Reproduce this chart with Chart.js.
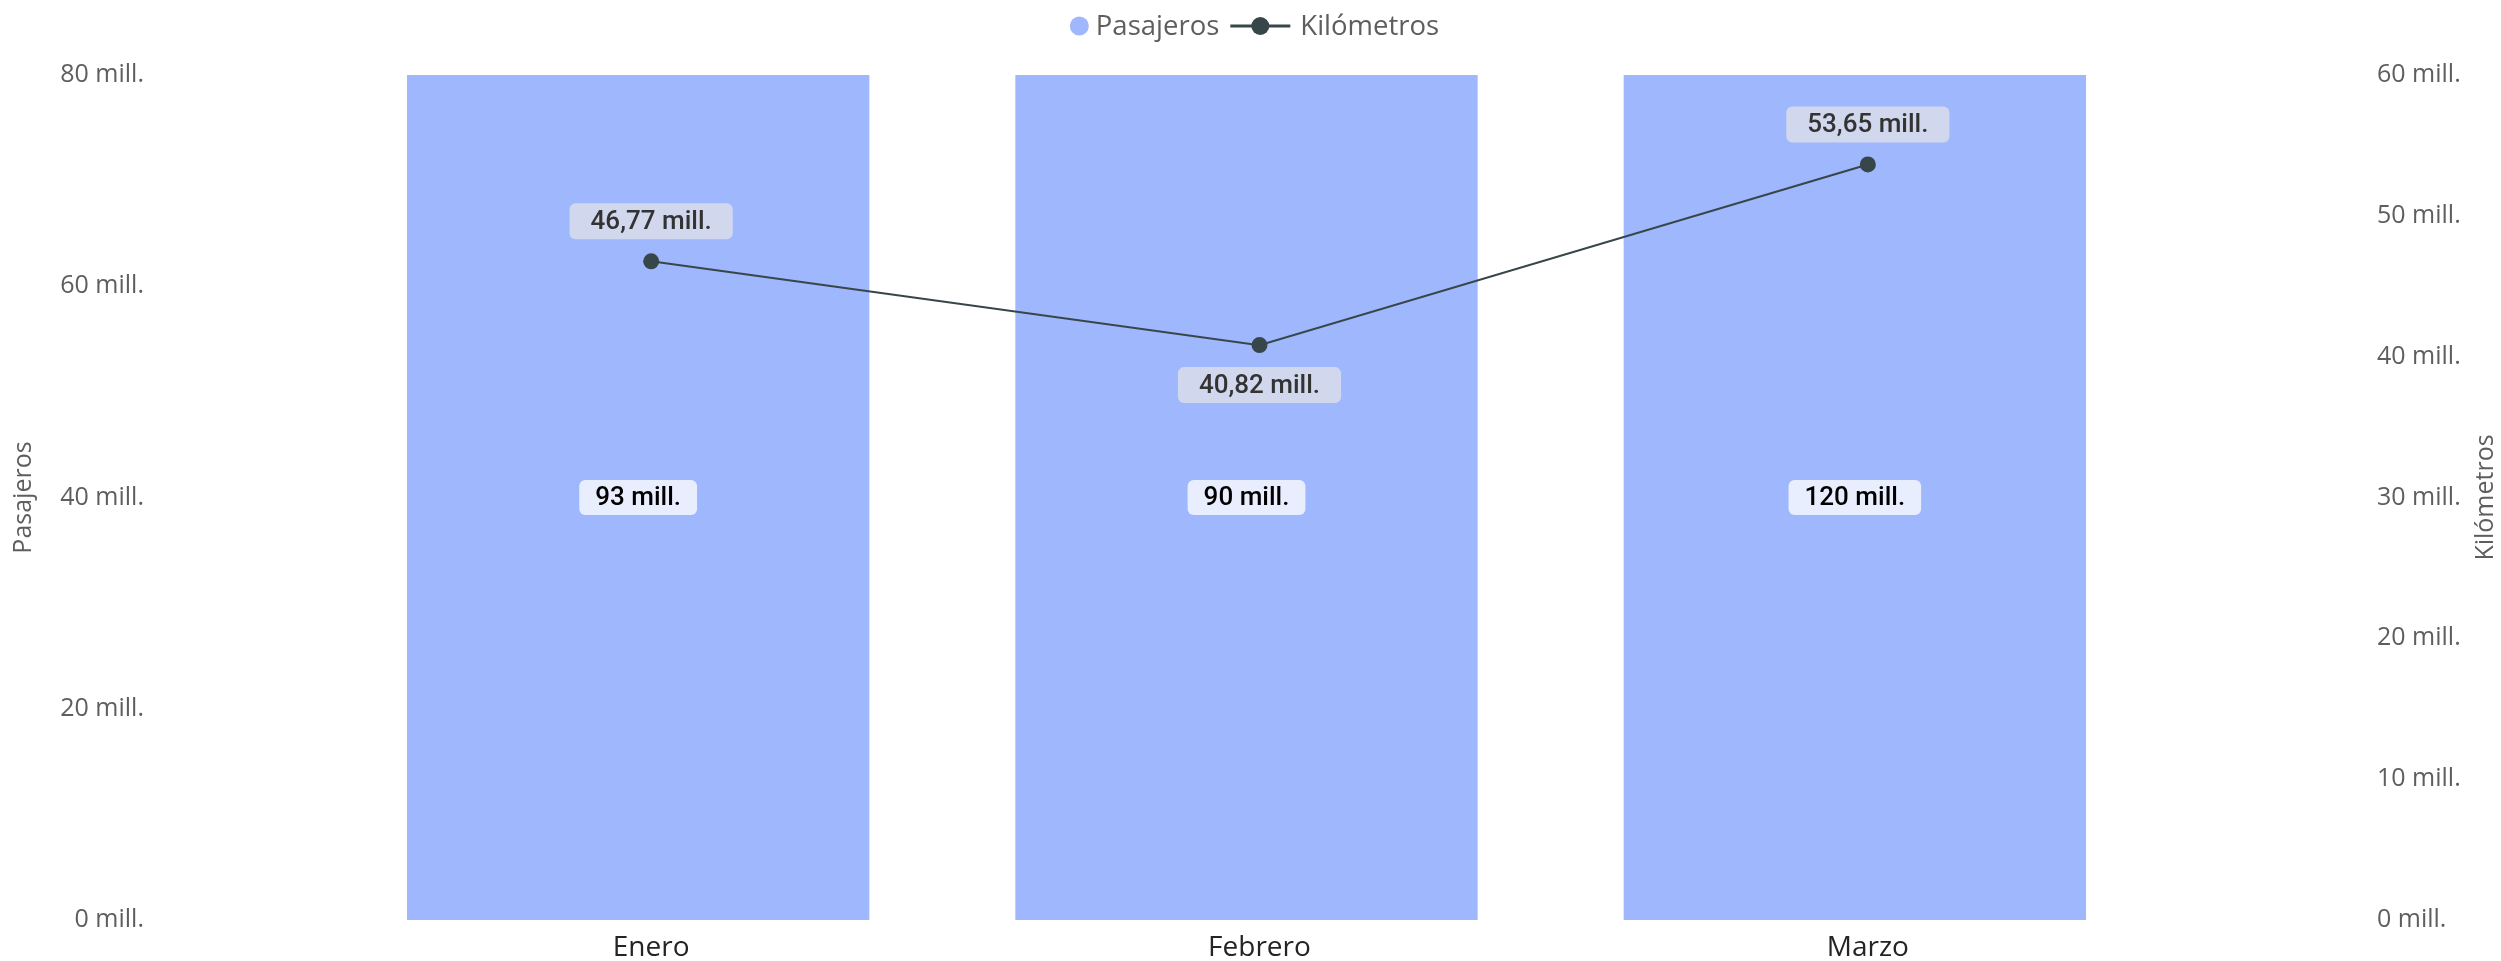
<!DOCTYPE html>
<html>
<head>
<meta charset="utf-8">
<style>
html,body{margin:0;padding:0;background:#ffffff;overflow:hidden}
#wrap{width:2501px;height:961px;position:relative}
</style>
<script src="https://cdn.jsdelivr.net/npm/chart.js@4.4.1/dist/chart.umd.min.js"></script>
</head>
<body>
<div id="wrap"><canvas id="c"></canvas></div>
<script>
// ---- data ----
const categories = ['Enero', 'Febrero', 'Marzo'];
const pasajeros = [93e6, 90e6, 120e6];
const kilometros = [46.77e6, 40.82e6, 53.65e6];
const pasajerosTicks = [0, 20e6, 40e6, 60e6, 80e6];
const kilometrosTicks = [0, 10e6, 20e6, 30e6, 40e6, 50e6, 60e6];
const seriesNames = ['Pasajeros', 'Kilómetros'];

// ---- styles ----
const BAR_COLOR = '#9FB7FD';
const LINE_COLOR = '#374649';
const TICK_COLOR = '#605E5C';
const CAT_COLOR = '#252423';
const UI_FONT = '"Open Sans", "Noto Sans", sans-serif';
const LABEL_FONT = 'Roboto, "DejaVu Sans", sans-serif';

function fmtMill(v, decimals) {
  return (v / 1e6).toFixed(decimals).replace('.', ',') + ' mill.';
}

function roundBox(ctx, x, y, w, h, r) {
  ctx.beginPath();
  if (ctx.roundRect) { ctx.roundRect(x, y, w, h, r); }
  else { ctx.rect(x, y, w, h); }
  ctx.fill();
}

function drawLabel(ctx, text, cx, cy, padX, h, bg, fg) {
  const tw = ctx.measureText(text).width;
  const w = tw + padX * 2;
  ctx.fillStyle = bg;
  roundBox(ctx, cx - w / 2, cy - h / 2, w, h, 6);
  ctx.fillStyle = fg;
  ctx.fillText(text, cx, cy + 1);
}

const valueLabels = {
  id: 'valueLabels',
  afterDatasetsDraw(chart) {
    const { ctx, chartArea } = chart;
    ctx.save();
    ctx.font = '500 26px ' + LABEL_FONT;
    ctx.textAlign = 'center';
    ctx.textBaseline = 'middle';
    const barMeta = chart.getDatasetMeta(0);
    barMeta.data.forEach((el, i) => {
      const top = Math.max(el.y, chartArea.top);
      const bottom = Math.min(el.base, chartArea.bottom);
      drawLabel(ctx, fmtMill(pasajeros[i], 0), el.x, (top + bottom) / 2, 16, 35, '#E9EEFE', '#000000');
    });
    const lineMeta = chart.getDatasetMeta(1);
    const n = kilometros.length;
    lineMeta.data.forEach((el, i) => {
      const v = kilometros[i];
      const below = i > 0 && i < n - 1 && v < kilometros[i - 1] && v < kilometros[i + 1];
      const cy = below ? el.y + 40 : el.y - 40;
      drawLabel(ctx, fmtMill(v, 2), el.x, cy, 21, 36, '#D1D7EC', '#333333');
    });
    ctx.restore();
  }
};

const customLegendAndTitle = {
  id: 'customLegendAndTitle',
  afterDraw(chart) {
    const { ctx, chartArea } = chart;
    ctx.save();
    // legend
    ctx.font = '27.5px ' + UI_FONT;
    ctx.textBaseline = 'middle';
    ctx.textAlign = 'left';
    const y = 26;
    const t1 = seriesNames[0], t2 = seriesNames[1];
    const w1 = ctx.measureText(t1).width, w2 = ctx.measureText(t2).width;
    const total = 19 + 7 + w1 + 11 + 60 + 10 + w2;
    let x = chart.width / 2 + 4 - total / 2;
    ctx.fillStyle = BAR_COLOR;
    ctx.beginPath(); ctx.arc(x + 9.5, y, 9.5, 0, Math.PI * 2); ctx.fill();
    x += 19 + 7;
    ctx.fillStyle = TICK_COLOR;
    ctx.fillText(t1, x, y + 1);
    x += w1 + 11;
    ctx.strokeStyle = LINE_COLOR; ctx.lineWidth = 3;
    ctx.beginPath(); ctx.moveTo(x, y); ctx.lineTo(x + 60, y); ctx.stroke();
    ctx.fillStyle = LINE_COLOR;
    ctx.beginPath(); ctx.arc(x + 30, y, 9, 0, Math.PI * 2); ctx.fill();
    x += 60 + 10;
    ctx.fillStyle = TICK_COLOR;
    ctx.fillText(t2, x, y + 1);
    // right axis title (reads bottom-to-top)
    ctx.font = '25px ' + UI_FONT;
    ctx.textAlign = 'center';
    ctx.translate(chart.width - 15, (chartArea.top + chartArea.bottom) / 2);
    ctx.rotate(-Math.PI / 2);
    ctx.fillText(seriesNames[1], 0, 0);
    ctx.restore();
  }
};

const shiftBars = {
  id: 'shiftBars',
  afterLayout(chart) {
    const s = chart.scales.xb;
    s.left -= 13; s.right -= 13;
    s.configure();
  }
};

function vAxisFit(width) {
  return function (s) {
    s.width = width;
    s.paddingTop = 0;
    s.paddingBottom = 0;
  };
}

const ctx = document.getElementById('c').getContext('2d');
new Chart(ctx, {
  type: 'bar',
  data: {
    labels: categories,
    datasets: [
      {
        type: 'bar',
        label: seriesNames[0],
        data: pasajeros,
        backgroundColor: BAR_COLOR,
        xAxisID: 'xb',
        yAxisID: 'y',
        grouped: false,
        barPercentage: 0.76,
        categoryPercentage: 1,
        order: 2
      },
      {
        type: 'line',
        label: seriesNames[1],
        data: kilometros,
        borderColor: LINE_COLOR,
        backgroundColor: LINE_COLOR,
        borderWidth: 2,
        pointRadius: 8,
        pointHoverRadius: 8,
        pointBackgroundColor: LINE_COLOR,
        pointBorderWidth: 0,
        tension: 0,
        xAxisID: 'x',
        yAxisID: 'y1',
        order: 1
      }
    ]
  },
  options: {
    responsive: true,
    maintainAspectRatio: false,
    devicePixelRatio: 1,
    animation: false,
    events: [],
    layout: { padding: { top: 75, bottom: 0, left: 0, right: 0 } },
    plugins: {
      legend: { display: false },
      tooltip: { enabled: false }
    },
    scales: {
      x: {
        type: 'category',
        offset: true,
        grid: { display: false },
        border: { display: false },
        ticks: { color: CAT_COLOR, font: { family: UI_FONT, size: 28 }, padding: 3 },
        afterFit(s) { s.height = 41; }
      },
      xb: {
        type: 'category',
        position: 'bottom',
        offset: true,
        display: false
      },
      y: {
        position: 'left',
        min: pasajerosTicks[0],
        max: pasajerosTicks[pasajerosTicks.length - 1],
        grid: { display: false },
        border: { display: false },
        afterBuildTicks(s) { s.ticks = pasajerosTicks.map(v => ({ value: v })); },
        ticks: {
          color: TICK_COLOR,
          font: { family: UI_FONT, size: 25 },
          padding: 195,
          callback: v => fmtMill(v, 0)
        },
        title: {
          display: true,
          text: seriesNames[0],
          color: TICK_COLOR,
          font: { family: UI_FONT, size: 25 },
          padding: { top: 9, bottom: 0 }
        },
        afterFit: vAxisFit(347)
      },
      y1: {
        position: 'right',
        min: kilometrosTicks[0],
        max: kilometrosTicks[kilometrosTicks.length - 1],
        grid: { display: false },
        border: { display: false },
        afterBuildTicks(s) { s.ticks = kilometrosTicks.map(v => ({ value: v })); },
        ticks: {
          color: TICK_COLOR,
          font: { family: UI_FONT, size: 25 },
          padding: 197,
          callback: v => fmtMill(v, 0)
        },
        afterFit: vAxisFit(329)
      }
    }
  },
  plugins: [shiftBars, valueLabels, customLegendAndTitle]
});
</script>
</body>
</html>
